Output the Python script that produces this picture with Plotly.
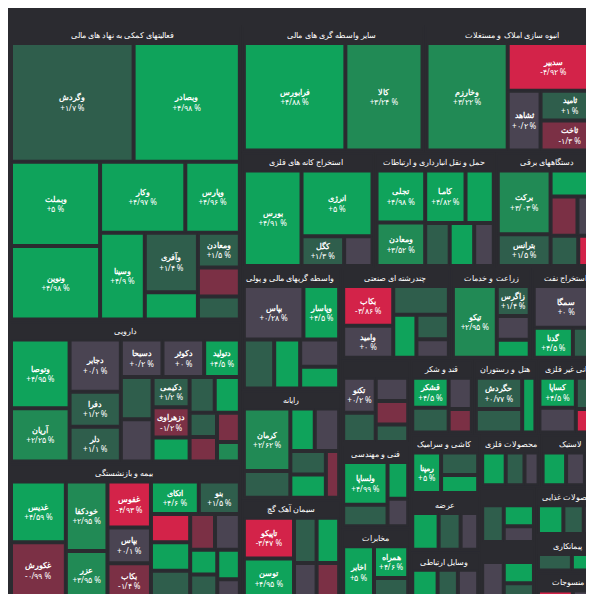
import plotly.graph_objects as go

sectors = [
    "فعالیتهای کمکی به نهاد های مالی", "انبوه سازی املاک و مستغلات", "دارویی",
    "بیمه و بازنشستگی", "سایر واسطه گری های مالی", "رایانه", "دستگاههای برقی",
    "ماشین آلات و تجهیزات", "واسطه گریهای مالی و پولی", "استخراج کانه های فلزی",
    "سیمان آهک گچ", "چندرشته ای صنعتی", "زراعت و خدمات", "فنی و مهندسی",
    "مخابرات", "حمل و نقل انبارداری و ارتباطات", "قند و شکر", "عرضه",
    "کاشی و سرامیک", "وسایل ارتباطی", "هتل و رستوران", "کانی غیر فلزی",
    "محصولات فلزی", "لاستیک", "محصولات شیمیایی", "استخراج نفت", "اطلاعات و ارتباطات",
    "پیمانکاری", "منسوجات", "محصولات غذایی",
]

# (sector index, symbol, size, change %)
stocks = [
    (0, "وگردش", 60, 1.7), (0, "وبصادر", 52, 4.98), (0, "وبملت", 31, 5.0),
    (0, "ونوین", 27, 4.98), (0, "وکار", 25, 4.97), (0, "وپارس", 16, 4.96),
    (0, "وسینا", 16, 4.9), (0, "وآفری", 13, 1.4), (0, "وسالت", 6, 4.7),
    (0, "ومعادن", 6, 1.5), (0, "وتوکا", 5, -1.2), (0, "واتی", 4, 1.1),
    (1, "وخارزم", 40, 3.22), (1, "سدبیر", 20, -4.92), (1, "ثشاهد", 9, 0.2),
    (1, "ثامید", 8, 1.0), (1, "ثاخت", 8, -1.3),
    (2, "وتوصا", 18, 4.95), (2, "آریان", 14, 2.25), (2, "دجابر", 12, 0.1),
    (2, "دفرا", 8, 1.2), (2, "دلر", 8, 1.1), (2, "دسبحا", 7, 0.2), (2, "دکوثر", 7, 0.0),
    (2, "دتولید", 6, 4.5), (2, "دشیمی", 6, 1.3), (2, "دپارس", 6, 0.3),
    (2, "دکیمی", 5, 1.2), (2, "دزهراوی", 5, -1.2), (2, "دامین", 4, 4.6),
    (2, "دالبر", 4, 1.1), (2, "دفارا", 4, 4.4), (2, "داسوه", 3, 1.0),
    (2, "دعبید", 3, -1.4), (2, "دسینا", 3, -1.5), (2, "دابور", 2, 2.0),
    (3, "غکورش", 14, -0.99), (3, "غدیس", 15, 4.59), (3, "خودکفا", 13, 2.95),
    (3, "عزر", 9, 3.95), (3, "غفوس", 9, -4.93), (3, "بپاس", 7, 0.1),
    (3, "بکاب", 7, -1.4), (3, "اتکای", 7, 4.6), (3, "بنو", 6, 1.5),
    (3, "کرمان2", 5, -4.5), (3, "بالبر", 5, 4.5), (3, "وتعاون", 5, 1.4),
    (3, "حآفرین", 4, -1.2), (3, "بساما", 4, 0.2), (3, "بمیلا", 3, 4.6),
    (3, "ملت", 3, 1.3), (3, "آسیا", 3, 4.5), (3, "دانا", 2, 0.2),
    (4, "فرابورس", 50, 4.88), (4, "کالا", 38, 3.24),
    (5, "کرمان", 14, 2.62), (5, "سپ", 6, 1.4), (5, "رتاپ", 5, 4.6),
    (5, "مرقام", 5, 0.2), (5, "سیستم", 4, 1.2), (5, "افق", 4, 4.5), (5, "اپرداز", 3, -1.3),
    (6, "برکت", 16, 3.03), (6, "بترانس", 8, 1.5), (6, "بشهاب", 6, 4.6),
    (6, "بموتو", 5, -1.4), (6, "برق", 4, 0.2), (6, "بایکا", 4, 1.2), (6, "بتک", 3, -4.5),
    (7, "تکنو", 6, 0.2), (7, "کمینا", 5, 1.3), (7, "تپمپی", 4, 0.1),
    (7, "فجر", 4, -1.2), (7, "خاذین", 3, 1.0),
    (8, "بپاس2", 15, 0.28), (8, "وپاسار", 9, 4.5), (8, "وملل", 7, 1.3),
    (8, "وپست", 6, 4.7), (8, "وخاور", 5, 0.2), (8, "وتجارت", 4, 4.5),
    (9, "بورس", 26, 4.91), (9, "انرژی3", 22, 5.0), (9, "کگل", 6, 1.3), (9, "کچاد2", 4, 0.1),
    (10, "تاپیکو", 10, -3.47), (10, "توسن", 10, 4.95), (10, "سشرق", 5, 1.3),
    (10, "ساروم", 5, 4.5), (10, "سفار", 4, 0.2), (10, "سخوز", 4, -1.2),
    (11, "بکاب2", 10, -3.86), (11, "وامید", 8, 0.0), (11, "وغدیر", 8, 0.66),
    (11, "والبر", 5, 4.5), (11, "وصنعت", 4, 1.3), (11, "وبانک", 3, 0.1),
    (12, "تیکو", 16, 2.95), (12, "زاگرس", 5, 1.4), (12, "زکشت", 4, 0.1), (12, "زپارس", 3, 4.5),
    (13, "ولساپا", 10, 4.99), (13, "خبر", 5, 1.3), (13, "وسپه", 4, 4.6), (13, "ساینا", 3, 0.2),
    (14, "اخابر", 9, 5.0), (14, "همراه", 6, 4.6), (14, "رکیش", 4, 1.3),
    (15, "تجلی", 12, 4.98), (15, "ومعادن2", 10, 3.52), (15, "کامـا", 10, 4.82),
    (15, "کچاد", 7, 4.84), (15, "حپترو", 5, 1.3), (15, "حکشتی", 5, 4.6), (15, "حفارس", 4, 0.2),
    (16, "قشکر", 6, 4.5), (16, "قنیشا", 5, 1.3), (16, "قثابت", 4, 0.2), (16, "قچار", 3, -1.1),
    (17, "عرضه1", 6, 4.6), (17, "عرضه2", 5, 1.3), (17, "عرضه3", 4, 0.2),
    (18, "رمپنا", 7, 5.0), (18, "کسرا", 5, 1.3), (18, "کسعدی", 4, 4.5),
    (19, "ختوقا", 5, 4.6), (19, "خکار", 4, 1.3), (19, "خودرو", 4, 0.2),
    (20, "حسیر", 6, 1.84), (20, "حگردش", 8, 0.77), (20, "گردش", 4, 4.5),
    (21, "کساپا", 6, 4.5), (21, "کفرا", 5, 0.2), (21, "کلوند", 4, 1.3), (21, "کگهر", 3, -4.4),
    (22, "فولاژ", 5, 4.6), (22, "فنوال", 4, 1.3), (22, "فجام", 3, 0.2),
    (23, "پکرمان", 5, 4.6), (23, "پتایر", 4, 0.2), (23, "پاسا", 3, 1.3),
    (24, "شپنا", 5, 1.3), (24, "شیراز", 4, 4.6), (24, "شفن", 3, 0.2),
    (25, "سمگا", 14, 0.0), (25, "گدنا", 6, 4.5), (25, "نفت", 4, 1.3),
    (26, "اطلس", 5, 0.2), (26, "آپ", 4, 4.5), (26, "اعتماد", 3, 1.3),
    (27, "پیمان1", 5, 1.3), (27, "پیمان2", 4, 4.6),
    (28, "نساج", 4, -4.5), (28, "نخریس", 3, 0.2),
    (29, "غبشهر", 5, 4.6), (29, "غپاک", 4, 1.3), (29, "غمینو", 3, 0.2),
]

to_fa = str.maketrans("0123456789.-", "۰۱۲۳۴۵۶۷۸۹/-")


def fmt(ch):
    s = f"{abs(ch):.2f}".rstrip("0").rstrip(".")
    sign = "-" if ch < 0 else "+"
    return (sign + s).translate(to_fa) + " %"


def colour(ch):
    if ch >= 4:
        return "#0fa35b"
    if ch >= 2:
        return "#218a55"
    if ch >= 0.5:
        return "#2f5e4c"
    if ch > -0.5:
        return "#4a4452"
    if ch > -2.5:
        return "#7b3045"
    return "#d32349"


ids, labels, parents, values, colors, texts, tmpl = [], [], [], [], [], [], []
for i, s in enumerate(sectors):
    tot = sum(st[2] for st in stocks if st[0] == i)
    ids.append(f"s{i}"); labels.append(s); parents.append("")
    values.append(tot); colors.append("#2b2b30"); texts.append("")
    tmpl.append("<b>%{label}</b>")
for k, (i, name, size, ch) in enumerate(stocks):
    ids.append(f"t{k}"); labels.append(name.rstrip("0123456789")); parents.append(f"s{i}")
    values.append(size); colors.append(colour(ch)); texts.append(fmt(ch))
    tmpl.append("<b>%{label}</b><br>%{text}")

fig = go.Figure(go.Treemap(
    ids=ids, labels=labels, parents=parents, values=values, text=texts,
    branchvalues="total", sort=True,
    marker=dict(colors=colors, line=dict(color="#2b2b30", width=2),
                pad=dict(t=18, l=2, r=2, b=2)),
    texttemplate=tmpl,
    textposition="middle center",
    textfont=dict(family="Noto Sans", color="white", size=12),
    tiling=dict(pad=2, packing="squarify"),
    pathbar=dict(visible=False),
    hoverinfo="label+text",
))
fig.update_layout(
    width=594, height=594, margin=dict(l=0, r=0, t=0, b=0),
    paper_bgcolor="#2b2b30", plot_bgcolor="#2b2b30",
    uniformtext=dict(minsize=8, mode="hide"),
    font=dict(family="Noto Sans", color="white"),
)
fig.write_html("out.html")
